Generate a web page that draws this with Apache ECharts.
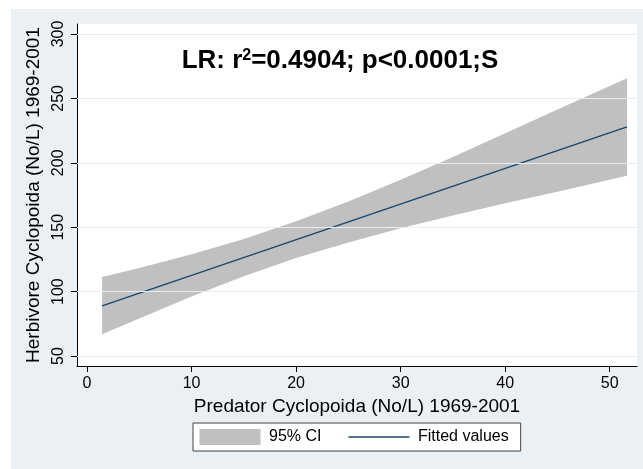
<!DOCTYPE html>
<html><head><meta charset="utf-8">
<script src="https://cdn.jsdelivr.net/npm/echarts@6/dist/echarts.min.js"></script>
<style>html,body{margin:0;padding:0;background:#fff}#c{width:643px;height:469px}</style>
</head><body><div id="c"></div>
<script>
const xTicks = [0, 10, 20, 30, 40, 50];
const yTicks = [50, 100, 150, 200, 250, 300];
const fitX = [1.44, 51.65];
const fitY = [88.9, 227.9];
const bandX = [1.44, 5, 10, 15, 20, 25, 30, 35, 40, 45, 51.65];
const bandLower = [66.9, 79.2, 96.2, 112.0, 126.0, 138.2, 149.1, 159.1, 168.5, 177.6, 190.0];
const bandUpper = [111.4, 118.4, 129.0, 140.8, 154.6, 170.0, 186.9, 204.5, 222.9, 241.4, 265.6];

const FONT = '"Liberation Sans", Arial, sans-serif';
const chart = echarts.init(document.getElementById('c'), null, {renderer: 'canvas'});

const bandData = bandX.map((x, i) => [x, bandLower[i], bandUpper[i]]);
const fitData = fitX.map((x, i) => [x, fitY[i]]);

chart.setOption({
  animation: false,
  backgroundColor: '#ffffff',
  textStyle: {fontFamily: FONT},
  graphic: [
    {type: 'rect', z: -10, shape: {x: 11, y: 9, width: 632, height: 460}, style: {fill: '#eaf0f3'}, silent: true},
    {type: 'text', z: 100, style: {
      x: 340, y: 61, align: 'center', verticalAlign: 'middle',
      text: '{b|LR: r}{s|2}{b|=0.4904; p<0.0001;S}',
      rich: {
        b: {fontSize: 26, fontWeight: 'bold', fontFamily: FONT, fill: '#000'},
        s: {fontSize: 16, fontWeight: 'bold', fontFamily: FONT, fill: '#000', verticalAlign: 'top', padding: [0, 0, 10, 0]}
      }
    }}
  ],
  grid: {left: 77, right: 6, top: 24, bottom: 103, show: true, backgroundColor: '#ffffff', borderWidth: 0},
  legend: {
    left: 193, top: 423,
    backgroundColor: '#ffffff', borderColor: '#444', borderWidth: 1, borderRadius: 0,
    padding: [6, 12, 6, 6.5],
    itemWidth: 61, itemHeight: 16, itemGap: 27,
    textStyle: {fontSize: 16, color: '#000', fontFamily: FONT, padding: [0, 0, 0, 3.5]},
    data: [
      {name: '95% CI', icon: 'rect', itemStyle: {color: '#c0c0c0'}},
      {name: 'Fitted values', icon: 'path://M0,0H40V1H0Z', itemStyle: {color: '#1a476f'}}
    ]
  },
  xAxis: {
    type: 'value', min: -0.96, max: 52.61,
    axisLine: {show: true, onZero: false, lineStyle: {color: '#000', width: 1}},
    axisTick: {show: true, length: 6, lineStyle: {color: '#000'}, customValues: xTicks},
    axisLabel: {fontSize: 16, color: '#000', margin: 10, customValues: xTicks, fontFamily: FONT},
    splitLine: {show: false},
    name: 'Predator Cyclopoida (No/L) 1969-2001', nameLocation: 'middle', nameGap: 27,
    nameTextStyle: {fontSize: 19, color: '#000', fontFamily: FONT}
  },
  yAxis: {
    type: 'value', min: 42.23, max: 307.77,
    axisLine: {show: true, onZero: false, lineStyle: {color: '#000', width: 1}},
    axisTick: {show: true, length: 6, lineStyle: {color: '#000'}, customValues: yTicks},
    axisLabel: {fontSize: 16, color: '#000', margin: 10, rotate: 90, customValues: yTicks, fontFamily: FONT},
    splitLine: {show: false},
    name: 'Herbivore Cyclopoida (No/L) 1969-2001', nameLocation: 'middle', nameGap: 30, nameRotate: 90,
    nameTextStyle: {fontSize: 19, color: '#000', fontFamily: FONT}
  },
  series: [
    {
      name: 'grid', type: 'line', data: [], z: 1, silent: true,
      markLine: {
        silent: true, symbol: 'none', label: {show: false},
        lineStyle: {color: '#e6eef2', width: 1, type: 'solid'},
        data: yTicks.map(v => ({yAxis: v}))
      }
    },
    {
      name: '95% CI', type: 'custom', z: 2, silent: true,
      data: bandData,
      renderItem: function (params, api) {
        if (params.dataIndex !== 0) return null;
        const pts = [];
        for (let i = 0; i < bandData.length; i++) pts.push(api.coord([bandData[i][0], bandData[i][2]]));
        for (let i = bandData.length - 1; i >= 0; i--) pts.push(api.coord([bandData[i][0], bandData[i][1]]));
        return {type: 'polygon', shape: {points: pts}, style: {fill: '#c0c0c0', stroke: null}};
      },
      encode: {x: 0, y: [1, 2]}
    },
    {
      name: 'Fitted values', type: 'line', z: 3, data: fitData,
      symbol: 'none', showSymbol: false,
      lineStyle: {color: '#1a476f', width: 1.5},
      itemStyle: {color: '#1a476f'}
    }
  ]
});
</script></body></html>
